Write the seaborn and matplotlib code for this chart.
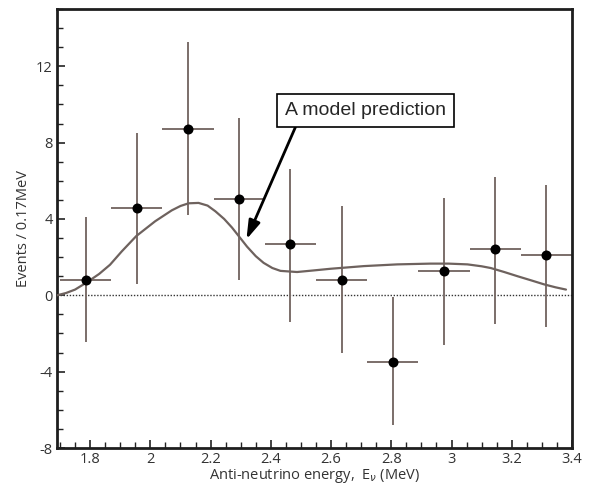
import numpy as np
import pandas as pd
import matplotlib
matplotlib.use("Agg")
import matplotlib.pyplot as plt
from matplotlib.ticker import MultipleLocator
import seaborn as sns

# ---- data ----
energy = [1.785, 1.955, 2.125, 2.295, 2.465, 2.635, 2.805, 2.975, 3.145, 3.315]
events = [0.8, 4.55, 8.7, 5.05, 2.7, 0.8, -3.5, 1.25, 2.4, 2.1]
err_hi = [4.1, 8.5, 13.25, 9.3, 6.6, 4.7, -0.1, 5.1, 6.2, 5.8]
err_lo = [-2.45, 0.6, 4.2, 0.8, -1.4, -3.0, -6.8, -2.6, -1.5, -1.65]
bin_half = 0.085

model_x = [1.69, 1.72, 1.75, 1.783, 1.805, 1.83, 1.866, 1.905, 1.953, 2.016, 2.071,
           2.10, 2.127, 2.16, 2.19, 2.216, 2.245, 2.271, 2.321, 2.35, 2.376, 2.405,
           2.432, 2.487, 2.54, 2.598, 2.709, 2.82, 2.93, 2.99, 3.053, 3.10, 3.13,
           3.175, 3.219, 3.265, 3.308, 3.345, 3.38]
model_y = [0.0, 0.12, 0.3, 0.62, 0.85, 1.12, 1.6, 2.3, 3.1, 3.88, 4.45,
           4.68, 4.82, 4.84, 4.7, 4.4, 4.0, 3.55, 2.55, 2.05, 1.7, 1.43,
           1.28, 1.22, 1.3, 1.39, 1.53, 1.62, 1.66, 1.66, 1.62, 1.52, 1.43,
           1.22, 1.0, 0.78, 0.57, 0.42, 0.3]

xticks = [1.8, 2.0, 2.2, 2.4, 2.6, 2.8, 3.0, 3.2, 3.4]
xticklabels = ["1.8", "2", "2.2", "2.4", "2.6", "2.8", "3", "3.2", "3.4"]
yticks = [-8, -4, 0, 4, 8, 12]
yticklabels = ["-8", "-4", "0", "4", "8", "12"]

# ---- style ----
sns.set_style("ticks")
plt.rcParams["font.family"] = ["Open Sans", "DejaVu Sans"]

fig = plt.figure(figsize=(5.90, 4.86), dpi=100)
ax = fig.add_axes([57 / 590, 1 - 448 / 486, (572 - 57) / 590, (448 - 9) / 486])

err_color = "#7b6e69"
pts = pd.DataFrame({"energy": energy, "events": events})
curve = pd.DataFrame({"x": model_x, "y": model_y})

ax.axhline(0, color="#333333", ls=(0, (1, 1.2)), lw=1.0, zorder=1)

yerr = np.array([np.array(events) - np.array(err_lo), np.array(err_hi) - np.array(events)])
ax.errorbar(energy, events, yerr=yerr, xerr=bin_half, fmt="none",
            ecolor=err_color, elinewidth=1.4, capsize=0, zorder=2)

sns.lineplot(data=curve, x="x", y="y", ax=ax, color="#6e625e", lw=1.6,
             sort=False, zorder=3, legend=False)
sns.scatterplot(data=pts, x="energy", y="events", ax=ax, color="black",
                s=52, edgecolor="black", linewidth=0, zorder=4, legend=False)

ax.set_xlim(1.69, 3.4)
ax.set_ylim(-8, 15)
ax.set_xticks(xticks)
ax.set_xticklabels(xticklabels)
ax.set_yticks(yticks)
ax.set_yticklabels(yticklabels)
ax.xaxis.set_minor_locator(MultipleLocator(0.05))
ax.yaxis.set_minor_locator(MultipleLocator(1))
ax.tick_params(which="both", direction="in", top=False, right=False,
               color="#222222", labelsize=10.5, labelcolor="#333333", pad=3)
ax.tick_params(which="major", length=6, width=1.2)
ax.tick_params(which="minor", length=4, width=1.0)

for s in ax.spines.values():
    s.set_visible(True)
    s.set_linewidth(2.0)
    s.set_color("#1e1e1e")

ax.set_xlabel("Anti-neutrino energy,  E$_\\nu$ (MeV)", fontsize=10.5,
              color="#333333", labelpad=0)
ax.set_ylabel("Events / 0.17MeV", fontsize=10.5, color="#333333", labelpad=4)

ax.annotate("A model prediction", xy=(2.319, 2.93), xytext=(2.715, 9.69),
            ha="center", va="center", fontsize=14,
            family=["Liberation Sans Narrow", "Liberation Sans", "DejaVu Sans"],
            bbox=dict(boxstyle="square,pad=0.4", fc="white", ec="black", lw=1.2),
            arrowprops=dict(arrowstyle="-|>,head_length=0.8,head_width=0.25",
                            color="black", lw=2.0, relpos=(0.086, 0.0),
                            shrinkA=0, shrinkB=0),
            zorder=6)

fig.savefig("out.png", dpi=100, facecolor="white")
